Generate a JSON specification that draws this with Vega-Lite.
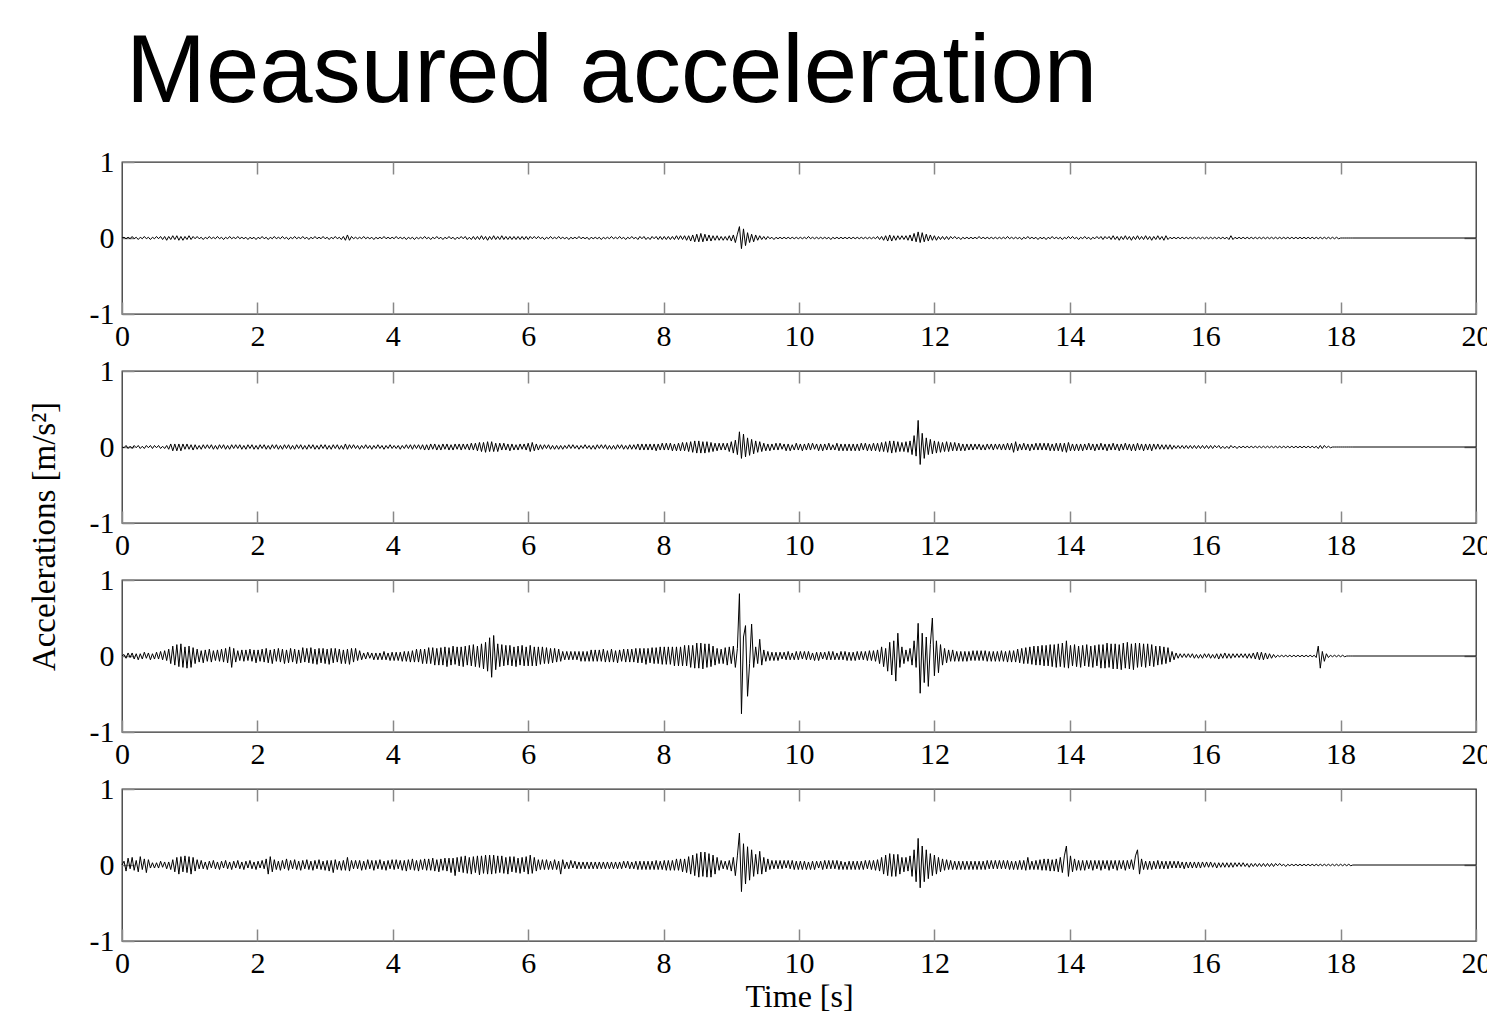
{
"$schema": "https://vega.github.io/schema/vega-lite/v6.json",
"background": "white",
"padding": {"left": 27, "top": 25, "right": 0, "bottom": 0},
"title": {"text": "Measured acceleration", "anchor": "start", "frame": "group", "font": "Liberation Sans", "fontSize": 96, "fontWeight": "normal", "color": "#000", "offset": 24, "dx": 4},
"data": {"values": [
{"t":0,"a":0,"b":0,"c":0,"d":0},
{"t":0.03,"a":0.01,"b":-0.01,"c":0.02,"d":0.05},
{"t":0.06,"a":-0.01,"b":0.02,"c":-0.03,"d":-0.08},
{"t":0.09,"a":0.01,"b":-0.02,"c":0.04,"d":0.09},
{"t":0.12,"a":-0.01,"b":0.01,"c":-0.02,"d":-0.05},
{"t":0.15,"a":0.02,"b":-0.02,"c":0.04,"d":0.1},
{"t":0.18,"a":-0.01,"b":0.02,"c":-0.04,"d":-0.07},
{"t":0.21,"a":0.01,"b":-0.01,"c":0.03,"d":0.06},
{"t":0.24,"a":-0.02,"b":0.02,"c":-0.05,"d":-0.09},
{"t":0.27,"a":0.01,"b":-0.02,"c":0.03,"d":0.11},
{"t":0.3,"a":-0.01,"b":0.01,"c":-0.04,"d":-0.06},
{"t":0.33,"a":0.02,"b":-0.02,"c":0.05,"d":0.08},
{"t":0.36,"a":-0.01,"b":0.02,"c":-0.03,"d":-0.1},
{"t":0.39,"a":0.01,"b":-0.01,"c":0.04,"d":0.07},
{"t":0.42,"a":-0.02,"b":0.02,"c":-0.05,"d":-0.04},
{"t":0.45,"a":0.01,"b":-0.02,"c":0.03,"d":0.03},
{"t":0.48,"a":-0.01,"b":0.02,"c":-0.04,"d":-0.04},
{"t":0.51,"a":0.02,"b":-0.01,"c":0.05,"d":0.03},
{"t":0.54,"a":-0.01,"b":0.02,"c":-0.04,"d":-0.04},
{"t":0.57,"a":0.02,"b":-0.02,"c":0.06,"d":0.05},
{"t":0.6,"a":-0.02,"b":0.01,"c":-0.05,"d":-0.03},
{"t":0.63,"a":0.02,"b":-0.02,"c":0.07,"d":0.04},
{"t":0.66,"a":-0.03,"b":0.02,"c":-0.06,"d":-0.05},
{"t":0.69,"a":0.02,"b":-0.03,"c":0.09,"d":0.04},
{"t":0.72,"a":-0.02,"b":0.04,"c":-0.1,"d":-0.06},
{"t":0.75,"a":0.03,"b":-0.05,"c":0.13,"d":0.07},
{"t":0.78,"a":-0.02,"b":0.04,"c":-0.12,"d":-0.09},
{"t":0.81,"a":0.03,"b":-0.05,"c":0.15,"d":0.1},
{"t":0.84,"a":-0.03,"b":0.04,"c":-0.14,"d":-0.12},
{"t":0.87,"a":0.02,"b":-0.05,"c":0.16,"d":0.11},
{"t":0.9,"a":-0.03,"b":0.04,"c":-0.15,"d":-0.09},
{"t":0.93,"a":0.02,"b":-0.03,"c":0.12,"d":0.12},
{"t":0.96,"a":-0.02,"b":0.04,"c":-0.16,"d":-0.1},
{"t":0.99,"a":0.03,"b":-0.03,"c":0.13,"d":0.11},
{"t":1.02,"a":-0.02,"b":0.03,"c":-0.15,"d":-0.12},
{"t":1.05,"a":0.02,"b":-0.04,"c":0.11,"d":0.1},
{"t":1.08,"a":-0.01,"b":0.03,"c":-0.1,"d":-0.08},
{"t":1.11,"a":0.02,"b":-0.03,"c":0.09,"d":0.07},
{"t":1.14,"a":-0.01,"b":0.02,"c":-0.08,"d":-0.05},
{"t":1.17,"a":0.01,"b":-0.03,"c":0.07,"d":0.06},
{"t":1.2,"a":-0.02,"b":0.03,"c":-0.09,"d":-0.05},
{"t":1.23,"a":0.01,"b":-0.02,"c":0.08,"d":0.04},
{"t":1.26,"a":-0.01,"b":0.03,"c":-0.07,"d":-0.06},
{"t":1.29,"a":0.02,"b":-0.02,"c":0.09,"d":0.05},
{"t":1.32,"a":-0.01,"b":0.03,"c":-0.08,"d":-0.04},
{"t":1.35,"a":0.01,"b":-0.03,"c":0.07,"d":0.06},
{"t":1.38,"a":-0.01,"b":0.02,"c":-0.06,"d":-0.05},
{"t":1.41,"a":0.02,"b":-0.03,"c":0.08,"d":0.04},
{"t":1.44,"a":-0.01,"b":0.03,"c":-0.07,"d":-0.06},
{"t":1.47,"a":0.01,"b":-0.02,"c":0.09,"d":0.05},
{"t":1.5,"a":-0.02,"b":0.03,"c":-0.08,"d":-0.04},
{"t":1.53,"a":0.01,"b":-0.03,"c":0.1,"d":0.06},
{"t":1.56,"a":-0.01,"b":0.02,"c":-0.09,"d":-0.05},
{"t":1.59,"a":0.02,"b":-0.03,"c":0.12,"d":0.04},
{"t":1.62,"a":-0.01,"b":0.03,"c":-0.15,"d":-0.06},
{"t":1.65,"a":0.01,"b":-0.02,"c":0.1,"d":0.05},
{"t":1.68,"a":-0.01,"b":0.03,"c":-0.08,"d":-0.04},
{"t":1.71,"a":0.02,"b":-0.02,"c":0.07,"d":0.06},
{"t":1.74,"a":-0.01,"b":0.03,"c":-0.06,"d":-0.05},
{"t":1.77,"a":0.01,"b":-0.03,"c":0.08,"d":0.04},
{"t":1.8,"a":-0.01,"b":0.02,"c":-0.07,"d":-0.06},
{"t":1.83,"a":0.01,"b":-0.03,"c":0.08,"d":0.05},
{"t":1.86,"a":-0.02,"b":0.03,"c":-0.06,"d":-0.04},
{"t":1.89,"a":0.01,"b":-0.02,"c":0.09,"d":0.06},
{"t":1.92,"a":-0.01,"b":0.03,"c":-0.07,"d":-0.05},
{"t":1.95,"a":0.01,"b":-0.03,"c":0.08,"d":0.04},
{"t":1.98,"a":-0.02,"b":0.02,"c":-0.09,"d":-0.06},
{"t":2.01,"a":0.01,"b":-0.03,"c":0.08,"d":0.05},
{"t":2.04,"a":-0.01,"b":0.03,"c":-0.07,"d":-0.04},
{"t":2.07,"a":0.02,"b":-0.02,"c":0.09,"d":0.06},
{"t":2.1,"a":-0.01,"b":0.03,"c":-0.08,"d":-0.05},
{"t":2.13,"a":0.01,"b":-0.03,"c":0.1,"d":0.08},
{"t":2.16,"a":-0.02,"b":0.02,"c":-0.09,"d":-0.12},
{"t":2.19,"a":0.01,"b":-0.03,"c":0.08,"d":0.11},
{"t":2.22,"a":-0.01,"b":0.03,"c":-0.1,"d":-0.09},
{"t":2.25,"a":0.02,"b":-0.02,"c":0.09,"d":0.07},
{"t":2.28,"a":-0.01,"b":0.03,"c":-0.07,"d":-0.06},
{"t":2.31,"a":0.01,"b":-0.03,"c":0.1,"d":0.05},
{"t":2.34,"a":-0.01,"b":0.02,"c":-0.08,"d":-0.07},
{"t":2.37,"a":0.02,"b":-0.03,"c":0.09,"d":0.06},
{"t":2.4,"a":-0.01,"b":0.03,"c":-0.1,"d":-0.05},
{"t":2.43,"a":0.01,"b":-0.02,"c":0.08,"d":0.08},
{"t":2.46,"a":-0.02,"b":0.03,"c":-0.09,"d":-0.07},
{"t":2.49,"a":0.01,"b":-0.03,"c":0.1,"d":0.06},
{"t":2.52,"a":-0.01,"b":0.02,"c":-0.08,"d":-0.05},
{"t":2.55,"a":0.02,"b":-0.03,"c":0.09,"d":0.07},
{"t":2.58,"a":-0.01,"b":0.03,"c":-0.1,"d":-0.06},
{"t":2.61,"a":0.01,"b":-0.02,"c":0.08,"d":0.05},
{"t":2.64,"a":-0.01,"b":0.03,"c":-0.09,"d":-0.07},
{"t":2.67,"a":0.02,"b":-0.03,"c":0.11,"d":0.06},
{"t":2.7,"a":-0.01,"b":0.02,"c":-0.08,"d":-0.05},
{"t":2.73,"a":0.01,"b":-0.03,"c":0.1,"d":0.07},
{"t":2.76,"a":-0.02,"b":0.03,"c":-0.09,"d":-0.06},
{"t":2.79,"a":0.01,"b":-0.02,"c":0.11,"d":0.05},
{"t":2.82,"a":-0.01,"b":0.03,"c":-0.1,"d":-0.07},
{"t":2.85,"a":0.02,"b":-0.03,"c":0.09,"d":0.06},
{"t":2.88,"a":-0.01,"b":0.02,"c":-0.11,"d":-0.05},
{"t":2.91,"a":0.01,"b":-0.03,"c":0.1,"d":0.07},
{"t":2.94,"a":-0.01,"b":0.03,"c":-0.09,"d":-0.06},
{"t":2.97,"a":0.02,"b":-0.02,"c":0.1,"d":0.05},
{"t":3,"a":-0.01,"b":0.03,"c":-0.1,"d":-0.07},
{"t":3.03,"a":0.01,"b":-0.03,"c":0.09,"d":0.06},
{"t":3.06,"a":-0.02,"b":0.02,"c":-0.11,"d":-0.08},
{"t":3.09,"a":0.01,"b":-0.03,"c":0.1,"d":0.06},
{"t":3.12,"a":-0.01,"b":0.03,"c":-0.09,"d":-0.1},
{"t":3.15,"a":0.02,"b":-0.02,"c":0.1,"d":0.07},
{"t":3.18,"a":-0.01,"b":0.03,"c":-0.08,"d":-0.06},
{"t":3.21,"a":0.01,"b":-0.03,"c":0.09,"d":0.05},
{"t":3.24,"a":-0.02,"b":0.02,"c":-0.1,"d":-0.07},
{"t":3.27,"a":0.02,"b":-0.03,"c":0.08,"d":0.06},
{"t":3.3,"a":-0.03,"b":0.04,"c":-0.1,"d":-0.07},
{"t":3.33,"a":0.04,"b":-0.03,"c":0.09,"d":0.1},
{"t":3.36,"a":-0.03,"b":0.03,"c":-0.11,"d":-0.08},
{"t":3.39,"a":0.02,"b":-0.02,"c":0.1,"d":0.06},
{"t":3.42,"a":-0.01,"b":0.03,"c":-0.08,"d":-0.05},
{"t":3.45,"a":0.01,"b":-0.02,"c":0.1,"d":0.06},
{"t":3.48,"a":-0.01,"b":0.02,"c":-0.06,"d":-0.05},
{"t":3.51,"a":0.01,"b":-0.03,"c":0.07,"d":0.06},
{"t":3.54,"a":-0.01,"b":0.02,"c":-0.05,"d":-0.07},
{"t":3.57,"a":0.02,"b":-0.02,"c":0.04,"d":0.05},
{"t":3.6,"a":-0.01,"b":0.03,"c":-0.04,"d":-0.06},
{"t":3.63,"a":0.01,"b":-0.02,"c":0.05,"d":0.07},
{"t":3.66,"a":-0.01,"b":0.02,"c":-0.03,"d":-0.05},
{"t":3.69,"a":0.01,"b":-0.03,"c":0.04,"d":0.06},
{"t":3.72,"a":-0.02,"b":0.02,"c":-0.05,"d":-0.07},
{"t":3.75,"a":0.01,"b":-0.02,"c":0.04,"d":0.06},
{"t":3.78,"a":-0.01,"b":0.03,"c":-0.05,"d":-0.05},
{"t":3.81,"a":0.01,"b":-0.02,"c":0.04,"d":0.07},
{"t":3.84,"a":-0.01,"b":0.02,"c":-0.05,"d":-0.06},
{"t":3.87,"a":0.02,"b":-0.03,"c":0.06,"d":0.05},
{"t":3.9,"a":-0.01,"b":0.02,"c":-0.05,"d":-0.07},
{"t":3.93,"a":0.01,"b":-0.02,"c":0.04,"d":0.06},
{"t":3.96,"a":-0.01,"b":0.03,"c":-0.06,"d":-0.05},
{"t":3.99,"a":0.01,"b":-0.02,"c":0.05,"d":0.07},
{"t":4.02,"a":-0.01,"b":0.02,"c":-0.06,"d":-0.06},
{"t":4.05,"a":0.02,"b":-0.02,"c":0.05,"d":0.07},
{"t":4.08,"a":-0.01,"b":0.02,"c":-0.06,"d":-0.05},
{"t":4.11,"a":0.01,"b":-0.03,"c":0.05,"d":0.06},
{"t":4.14,"a":-0.01,"b":0.02,"c":-0.07,"d":-0.07},
{"t":4.17,"a":0.01,"b":-0.02,"c":0.06,"d":0.06},
{"t":4.2,"a":-0.02,"b":0.03,"c":-0.07,"d":-0.08},
{"t":4.23,"a":0.01,"b":-0.02,"c":0.06,"d":0.07},
{"t":4.26,"a":-0.01,"b":0.03,"c":-0.08,"d":-0.06},
{"t":4.29,"a":0.01,"b":-0.03,"c":0.07,"d":0.08},
{"t":4.32,"a":-0.02,"b":0.03,"c":-0.08,"d":-0.07},
{"t":4.35,"a":0.01,"b":-0.02,"c":0.09,"d":0.06},
{"t":4.38,"a":-0.01,"b":0.03,"c":-0.08,"d":-0.08},
{"t":4.41,"a":0.01,"b":-0.03,"c":0.09,"d":0.07},
{"t":4.44,"a":-0.01,"b":0.03,"c":-0.1,"d":-0.06},
{"t":4.47,"a":0.02,"b":-0.04,"c":0.09,"d":0.08},
{"t":4.5,"a":-0.01,"b":0.03,"c":-0.1,"d":-0.07},
{"t":4.53,"a":0.01,"b":-0.04,"c":0.11,"d":0.08},
{"t":4.56,"a":-0.02,"b":0.04,"c":-0.1,"d":-0.07},
{"t":4.59,"a":0.01,"b":-0.03,"c":0.11,"d":0.09},
{"t":4.62,"a":-0.01,"b":0.04,"c":-0.12,"d":-0.08},
{"t":4.65,"a":0.02,"b":-0.04,"c":0.1,"d":0.07},
{"t":4.68,"a":-0.01,"b":0.03,"c":-0.12,"d":-0.09},
{"t":4.71,"a":0.01,"b":-0.04,"c":0.11,"d":0.08},
{"t":4.74,"a":-0.02,"b":0.04,"c":-0.12,"d":-0.07},
{"t":4.77,"a":0.01,"b":-0.03,"c":0.12,"d":0.09},
{"t":4.8,"a":-0.01,"b":0.04,"c":-0.14,"d":-0.08},
{"t":4.83,"a":0.02,"b":-0.04,"c":0.11,"d":0.09},
{"t":4.86,"a":-0.01,"b":0.03,"c":-0.12,"d":-0.1},
{"t":4.89,"a":0.01,"b":-0.04,"c":0.13,"d":0.09},
{"t":4.92,"a":-0.02,"b":0.04,"c":-0.11,"d":-0.14},
{"t":4.95,"a":0.01,"b":-0.03,"c":0.12,"d":0.1},
{"t":4.98,"a":-0.01,"b":0.04,"c":-0.13,"d":-0.09},
{"t":5.01,"a":0.02,"b":-0.04,"c":0.12,"d":0.11},
{"t":5.04,"a":-0.01,"b":0.04,"c":-0.14,"d":-0.1},
{"t":5.07,"a":0.02,"b":-0.03,"c":0.13,"d":0.12},
{"t":5.1,"a":-0.02,"b":0.04,"c":-0.12,"d":-0.11},
{"t":5.13,"a":0.01,"b":-0.04,"c":0.14,"d":0.1},
{"t":5.16,"a":-0.02,"b":0.05,"c":-0.13,"d":-0.12},
{"t":5.19,"a":0.02,"b":-0.04,"c":0.15,"d":0.11},
{"t":5.22,"a":-0.02,"b":0.05,"c":-0.14,"d":-0.1},
{"t":5.25,"a":0.02,"b":-0.05,"c":0.13,"d":0.12},
{"t":5.28,"a":-0.02,"b":0.06,"c":-0.15,"d":-0.13},
{"t":5.31,"a":0.03,"b":-0.06,"c":0.16,"d":0.12},
{"t":5.34,"a":-0.02,"b":0.06,"c":-0.17,"d":-0.11},
{"t":5.37,"a":0.02,"b":-0.07,"c":0.18,"d":0.13},
{"t":5.4,"a":-0.03,"b":0.07,"c":-0.2,"d":-0.12},
{"t":5.43,"a":0.02,"b":-0.06,"c":0.24,"d":0.13},
{"t":5.46,"a":-0.02,"b":0.07,"c":-0.28,"d":-0.12},
{"t":5.49,"a":0.03,"b":-0.06,"c":0.27,"d":0.13},
{"t":5.52,"a":-0.02,"b":0.05,"c":-0.18,"d":-0.11},
{"t":5.55,"a":0.02,"b":-0.06,"c":0.16,"d":0.12},
{"t":5.58,"a":-0.02,"b":0.05,"c":-0.14,"d":-0.1},
{"t":5.61,"a":0.03,"b":-0.04,"c":0.15,"d":0.12},
{"t":5.64,"a":-0.02,"b":0.05,"c":-0.13,"d":-0.11},
{"t":5.67,"a":0.02,"b":-0.04,"c":0.14,"d":0.1},
{"t":5.7,"a":-0.02,"b":0.04,"c":-0.12,"d":-0.12},
{"t":5.73,"a":0.02,"b":-0.05,"c":0.14,"d":0.11},
{"t":5.76,"a":-0.02,"b":0.04,"c":-0.13,"d":-0.09},
{"t":5.79,"a":0.02,"b":-0.04,"c":0.12,"d":0.11},
{"t":5.82,"a":-0.02,"b":0.03,"c":-0.14,"d":-0.1},
{"t":5.85,"a":0.02,"b":-0.04,"c":0.13,"d":0.09},
{"t":5.88,"a":-0.02,"b":0.04,"c":-0.12,"d":-0.11},
{"t":5.91,"a":0.02,"b":-0.03,"c":0.14,"d":0.1},
{"t":5.94,"a":-0.02,"b":0.04,"c":-0.13,"d":-0.09},
{"t":5.97,"a":0.02,"b":-0.04,"c":0.12,"d":0.11},
{"t":6,"a":-0.02,"b":0.05,"c":-0.13,"d":-0.12},
{"t":6.03,"a":0.02,"b":-0.06,"c":0.14,"d":0.13},
{"t":6.06,"a":-0.01,"b":0.06,"c":-0.13,"d":-0.11},
{"t":6.09,"a":0.02,"b":-0.05,"c":0.12,"d":0.1},
{"t":6.12,"a":-0.01,"b":0.04,"c":-0.13,"d":-0.08},
{"t":6.15,"a":0.02,"b":-0.04,"c":0.12,"d":0.07},
{"t":6.18,"a":-0.01,"b":0.03,"c":-0.11,"d":-0.06},
{"t":6.21,"a":0.01,"b":-0.03,"c":0.12,"d":0.07},
{"t":6.24,"a":-0.02,"b":0.03,"c":-0.1,"d":-0.06},
{"t":6.27,"a":0.01,"b":-0.02,"c":0.11,"d":0.07},
{"t":6.3,"a":-0.01,"b":0.03,"c":-0.1,"d":-0.06},
{"t":6.33,"a":0.02,"b":-0.03,"c":0.1,"d":0.05},
{"t":6.36,"a":-0.01,"b":0.02,"c":-0.09,"d":-0.06},
{"t":6.39,"a":0.01,"b":-0.03,"c":0.1,"d":0.07},
{"t":6.42,"a":-0.01,"b":0.02,"c":-0.08,"d":-0.06},
{"t":6.45,"a":0.02,"b":-0.03,"c":0.09,"d":0.05},
{"t":6.48,"a":-0.01,"b":0.02,"c":-0.07,"d":-0.12},
{"t":6.51,"a":0.01,"b":-0.03,"c":0.06,"d":0.07},
{"t":6.54,"a":-0.01,"b":0.02,"c":-0.05,"d":-0.05},
{"t":6.57,"a":0.01,"b":-0.02,"c":0.06,"d":0.04},
{"t":6.6,"a":-0.02,"b":0.03,"c":-0.05,"d":-0.05},
{"t":6.63,"a":0.01,"b":-0.02,"c":0.06,"d":0.06},
{"t":6.66,"a":-0.01,"b":0.03,"c":-0.05,"d":-0.04},
{"t":6.69,"a":0.01,"b":-0.02,"c":0.06,"d":0.05},
{"t":6.72,"a":-0.01,"b":0.02,"c":-0.05,"d":-0.05},
{"t":6.75,"a":0.02,"b":-0.03,"c":0.06,"d":0.04},
{"t":6.78,"a":-0.01,"b":0.02,"c":-0.07,"d":-0.05},
{"t":6.81,"a":0.01,"b":-0.02,"c":0.06,"d":0.04},
{"t":6.84,"a":-0.01,"b":0.03,"c":-0.07,"d":-0.05},
{"t":6.87,"a":0.01,"b":-0.02,"c":0.06,"d":0.04},
{"t":6.9,"a":-0.02,"b":0.02,"c":-0.07,"d":-0.05},
{"t":6.93,"a":0.01,"b":-0.03,"c":0.08,"d":0.04},
{"t":6.96,"a":-0.01,"b":0.02,"c":-0.07,"d":-0.05},
{"t":6.99,"a":0.01,"b":-0.03,"c":0.08,"d":0.04},
{"t":7.02,"a":-0.01,"b":0.03,"c":-0.07,"d":-0.05},
{"t":7.05,"a":0.01,"b":-0.02,"c":0.08,"d":0.04},
{"t":7.08,"a":-0.02,"b":0.03,"c":-0.07,"d":-0.05},
{"t":7.11,"a":0.01,"b":-0.02,"c":0.09,"d":0.04},
{"t":7.14,"a":-0.01,"b":0.03,"c":-0.08,"d":-0.05},
{"t":7.17,"a":0.01,"b":-0.03,"c":0.07,"d":0.04},
{"t":7.2,"a":-0.01,"b":0.02,"c":-0.08,"d":-0.05},
{"t":7.23,"a":0.02,"b":-0.03,"c":0.09,"d":0.04},
{"t":7.26,"a":-0.01,"b":0.02,"c":-0.08,"d":-0.05},
{"t":7.29,"a":0.01,"b":-0.03,"c":0.07,"d":0.04},
{"t":7.32,"a":-0.01,"b":0.03,"c":-0.09,"d":-0.05},
{"t":7.35,"a":0.02,"b":-0.02,"c":0.08,"d":0.04},
{"t":7.38,"a":-0.01,"b":0.03,"c":-0.07,"d":-0.05},
{"t":7.41,"a":0.01,"b":-0.03,"c":0.09,"d":0.05},
{"t":7.44,"a":-0.02,"b":0.02,"c":-0.08,"d":-0.04},
{"t":7.47,"a":0.01,"b":-0.03,"c":0.09,"d":0.05},
{"t":7.5,"a":-0.01,"b":0.03,"c":-0.08,"d":-0.05},
{"t":7.53,"a":0.02,"b":-0.03,"c":0.09,"d":0.04},
{"t":7.56,"a":-0.01,"b":0.03,"c":-0.08,"d":-0.05},
{"t":7.59,"a":0.01,"b":-0.03,"c":0.1,"d":0.05},
{"t":7.62,"a":-0.02,"b":0.04,"c":-0.09,"d":-0.06},
{"t":7.65,"a":0.02,"b":-0.04,"c":0.1,"d":0.05},
{"t":7.68,"a":-0.01,"b":0.04,"c":-0.09,"d":-0.06},
{"t":7.71,"a":0.02,"b":-0.04,"c":0.1,"d":0.05},
{"t":7.74,"a":-0.02,"b":0.04,"c":-0.11,"d":-0.06},
{"t":7.77,"a":0.01,"b":-0.04,"c":0.1,"d":0.05},
{"t":7.8,"a":-0.02,"b":0.04,"c":-0.09,"d":-0.06},
{"t":7.83,"a":0.02,"b":-0.04,"c":0.11,"d":0.05},
{"t":7.86,"a":-0.01,"b":0.04,"c":-0.1,"d":-0.06},
{"t":7.89,"a":0.02,"b":-0.05,"c":0.11,"d":0.06},
{"t":7.92,"a":-0.02,"b":0.04,"c":-0.1,"d":-0.06},
{"t":7.95,"a":0.02,"b":-0.04,"c":0.12,"d":0.05},
{"t":7.98,"a":-0.02,"b":0.05,"c":-0.11,"d":-0.06},
{"t":8.01,"a":0.02,"b":-0.04,"c":0.12,"d":0.06},
{"t":8.04,"a":-0.02,"b":0.05,"c":-0.11,"d":-0.07},
{"t":8.07,"a":0.02,"b":-0.04,"c":0.12,"d":0.06},
{"t":8.1,"a":-0.02,"b":0.05,"c":-0.11,"d":-0.07},
{"t":8.13,"a":0.02,"b":-0.05,"c":0.12,"d":0.06},
{"t":8.16,"a":-0.02,"b":0.04,"c":-0.13,"d":-0.07},
{"t":8.19,"a":0.03,"b":-0.05,"c":0.12,"d":0.08},
{"t":8.22,"a":-0.02,"b":0.05,"c":-0.13,"d":-0.07},
{"t":8.25,"a":0.03,"b":-0.05,"c":0.12,"d":0.08},
{"t":8.28,"a":-0.02,"b":0.06,"c":-0.13,"d":-0.09},
{"t":8.31,"a":0.03,"b":-0.05,"c":0.14,"d":0.08},
{"t":8.34,"a":-0.03,"b":0.06,"c":-0.13,"d":-0.1},
{"t":8.37,"a":0.03,"b":-0.06,"c":0.14,"d":0.11},
{"t":8.4,"a":-0.04,"b":0.07,"c":-0.15,"d":-0.12},
{"t":8.43,"a":0.04,"b":-0.07,"c":0.14,"d":0.13},
{"t":8.46,"a":-0.05,"b":0.08,"c":-0.16,"d":-0.14},
{"t":8.49,"a":0.05,"b":-0.08,"c":0.17,"d":0.15},
{"t":8.52,"a":-0.05,"b":0.08,"c":-0.16,"d":-0.16},
{"t":8.55,"a":0.06,"b":-0.08,"c":0.17,"d":0.17},
{"t":8.58,"a":-0.05,"b":0.07,"c":-0.17,"d":-0.15},
{"t":8.61,"a":0.05,"b":-0.08,"c":0.16,"d":0.17},
{"t":8.64,"a":-0.04,"b":0.07,"c":-0.15,"d":-0.16},
{"t":8.67,"a":0.04,"b":-0.07,"c":0.16,"d":0.15},
{"t":8.7,"a":-0.04,"b":0.06,"c":-0.14,"d":-0.16},
{"t":8.73,"a":0.03,"b":-0.06,"c":0.13,"d":0.13},
{"t":8.76,"a":-0.03,"b":0.05,"c":-0.12,"d":-0.12},
{"t":8.79,"a":0.03,"b":-0.05,"c":0.1,"d":0.1},
{"t":8.82,"a":-0.03,"b":0.05,"c":-0.1,"d":-0.07},
{"t":8.85,"a":0.02,"b":-0.04,"c":0.09,"d":0.06},
{"t":8.88,"a":-0.03,"b":0.05,"c":-0.1,"d":-0.05},
{"t":8.91,"a":0.02,"b":-0.04,"c":0.11,"d":0.05},
{"t":8.94,"a":-0.03,"b":0.05,"c":-0.12,"d":-0.06},
{"t":8.97,"a":0.03,"b":-0.06,"c":0.12,"d":0.06},
{"t":9,"a":-0.04,"b":0.07,"c":-0.1,"d":-0.08},
{"t":9.03,"a":0.04,"b":-0.08,"c":0.13,"d":0.1},
{"t":9.06,"a":-0.06,"b":0.09,"c":-0.15,"d":-0.14},
{"t":9.09,"a":0.05,"b":-0.1,"c":0.1,"d":0.12},
{"t":9.12,"a":0.15,"b":0.2,"c":0.82,"d":0.42},
{"t":9.15,"a":-0.14,"b":-0.15,"c":-0.76,"d":-0.35},
{"t":9.18,"a":0.12,"b":0.17,"c":0.25,"d":0.28},
{"t":9.21,"a":-0.1,"b":-0.13,"c":0.4,"d":-0.25},
{"t":9.24,"a":0.07,"b":0.12,"c":-0.53,"d":0.24},
{"t":9.27,"a":-0.06,"b":-0.11,"c":-0.1,"d":-0.2},
{"t":9.3,"a":0.05,"b":0.1,"c":0.42,"d":0.2},
{"t":9.33,"a":-0.05,"b":-0.09,"c":-0.15,"d":-0.15},
{"t":9.36,"a":0.04,"b":0.08,"c":0.12,"d":0.14},
{"t":9.39,"a":-0.03,"b":-0.07,"c":-0.1,"d":-0.12},
{"t":9.42,"a":0.03,"b":0.07,"c":0.22,"d":0.18},
{"t":9.45,"a":-0.02,"b":-0.06,"c":-0.12,"d":-0.12},
{"t":9.48,"a":0.02,"b":0.05,"c":0.08,"d":0.1},
{"t":9.51,"a":-0.02,"b":-0.05,"c":-0.07,"d":-0.09},
{"t":9.54,"a":0.02,"b":0.04,"c":0.06,"d":0.08},
{"t":9.57,"a":-0.01,"b":-0.05,"c":-0.06,"d":-0.06},
{"t":9.6,"a":0.01,"b":0.04,"c":0.05,"d":0.06},
{"t":9.63,"a":-0.02,"b":-0.04,"c":-0.06,"d":-0.05},
{"t":9.66,"a":0.01,"b":0.05,"c":0.05,"d":0.06},
{"t":9.69,"a":-0.01,"b":-0.04,"c":-0.06,"d":-0.05},
{"t":9.72,"a":0.01,"b":0.05,"c":0.05,"d":0.06},
{"t":9.75,"a":-0.01,"b":-0.03,"c":-0.04,"d":-0.05},
{"t":9.78,"a":0.01,"b":0.04,"c":0.05,"d":0.06},
{"t":9.81,"a":-0.01,"b":-0.05,"c":-0.05,"d":-0.04},
{"t":9.84,"a":0.01,"b":0.04,"c":0.06,"d":0.06},
{"t":9.87,"a":-0.01,"b":-0.05,"c":-0.05,"d":-0.05},
{"t":9.9,"a":0.01,"b":0.03,"c":0.04,"d":0.06},
{"t":9.93,"a":-0.01,"b":-0.04,"c":-0.05,"d":-0.06},
{"t":9.96,"a":0.01,"b":0.05,"c":0.06,"d":0.05},
{"t":9.99,"a":-0.01,"b":-0.04,"c":-0.05,"d":-0.06},
{"t":10.02,"a":0.01,"b":0.04,"c":0.06,"d":0.05},
{"t":10.05,"a":-0.01,"b":-0.05,"c":-0.04,"d":-0.06},
{"t":10.08,"a":0.01,"b":0.04,"c":0.06,"d":0.05},
{"t":10.11,"a":-0.01,"b":-0.04,"c":-0.05,"d":-0.06},
{"t":10.14,"a":0.02,"b":0.05,"c":0.06,"d":0.04},
{"t":10.17,"a":-0.01,"b":-0.04,"c":-0.05,"d":-0.06},
{"t":10.2,"a":0.01,"b":0.05,"c":0.04,"d":0.05},
{"t":10.23,"a":-0.01,"b":-0.03,"c":-0.06,"d":-0.06},
{"t":10.26,"a":0.01,"b":0.04,"c":0.05,"d":0.05},
{"t":10.29,"a":-0.01,"b":-0.05,"c":-0.06,"d":-0.04},
{"t":10.32,"a":0.01,"b":0.04,"c":0.05,"d":0.05},
{"t":10.35,"a":-0.01,"b":-0.05,"c":-0.04,"d":-0.06},
{"t":10.38,"a":0.01,"b":0.04,"c":0.05,"d":0.06},
{"t":10.41,"a":-0.01,"b":-0.04,"c":-0.05,"d":-0.05},
{"t":10.44,"a":0.01,"b":0.05,"c":0.06,"d":0.06},
{"t":10.47,"a":-0.02,"b":-0.04,"c":-0.05,"d":-0.05},
{"t":10.5,"a":0.01,"b":0.03,"c":0.06,"d":0.06},
{"t":10.53,"a":-0.01,"b":-0.04,"c":-0.05,"d":-0.05},
{"t":10.56,"a":0.01,"b":0.05,"c":0.04,"d":0.06},
{"t":10.59,"a":-0.01,"b":-0.05,"c":-0.05,"d":-0.06},
{"t":10.62,"a":0.01,"b":0.04,"c":0.06,"d":0.05},
{"t":10.65,"a":-0.01,"b":-0.05,"c":-0.05,"d":-0.06},
{"t":10.68,"a":0.01,"b":0.04,"c":0.06,"d":0.04},
{"t":10.71,"a":-0.01,"b":-0.05,"c":-0.06,"d":-0.06},
{"t":10.74,"a":0.01,"b":0.04,"c":0.05,"d":0.05},
{"t":10.77,"a":-0.01,"b":-0.05,"c":-0.06,"d":-0.06},
{"t":10.8,"a":0.01,"b":0.04,"c":0.05,"d":0.05},
{"t":10.83,"a":-0.01,"b":-0.05,"c":-0.06,"d":-0.06},
{"t":10.86,"a":0.01,"b":0.04,"c":0.06,"d":0.05},
{"t":10.89,"a":-0.01,"b":-0.05,"c":-0.05,"d":-0.06},
{"t":10.92,"a":0.01,"b":0.05,"c":0.06,"d":0.05},
{"t":10.95,"a":-0.01,"b":-0.04,"c":-0.05,"d":-0.06},
{"t":10.98,"a":0.01,"b":0.05,"c":0.06,"d":0.06},
{"t":11.01,"a":-0.01,"b":-0.05,"c":-0.06,"d":-0.05},
{"t":11.04,"a":0.01,"b":0.04,"c":0.07,"d":0.06},
{"t":11.07,"a":-0.01,"b":-0.05,"c":-0.06,"d":-0.06},
{"t":11.1,"a":0.01,"b":0.05,"c":0.07,"d":0.06},
{"t":11.13,"a":-0.01,"b":-0.05,"c":-0.07,"d":-0.07},
{"t":11.16,"a":0.02,"b":0.05,"c":0.08,"d":0.07},
{"t":11.19,"a":-0.02,"b":-0.06,"c":-0.1,"d":-0.08},
{"t":11.22,"a":0.02,"b":0.06,"c":0.12,"d":0.1},
{"t":11.25,"a":-0.03,"b":-0.06,"c":-0.14,"d":-0.12},
{"t":11.28,"a":0.03,"b":0.07,"c":0.1,"d":0.13},
{"t":11.31,"a":-0.04,"b":-0.07,"c":-0.2,"d":-0.14},
{"t":11.34,"a":0.04,"b":0.08,"c":0.18,"d":0.15},
{"t":11.37,"a":-0.04,"b":-0.08,"c":-0.25,"d":-0.15},
{"t":11.4,"a":0.03,"b":0.08,"c":0.2,"d":0.14},
{"t":11.43,"a":-0.03,"b":-0.07,"c":-0.33,"d":-0.15},
{"t":11.46,"a":0.03,"b":0.07,"c":0.3,"d":0.14},
{"t":11.49,"a":-0.02,"b":-0.06,"c":-0.15,"d":-0.12},
{"t":11.52,"a":0.03,"b":0.06,"c":0.12,"d":0.1},
{"t":11.55,"a":-0.02,"b":-0.06,"c":-0.1,"d":-0.09},
{"t":11.58,"a":0.03,"b":0.07,"c":0.08,"d":0.1},
{"t":11.61,"a":-0.03,"b":-0.07,"c":-0.07,"d":-0.08},
{"t":11.64,"a":0.04,"b":0.08,"c":0.1,"d":0.12},
{"t":11.67,"a":-0.04,"b":-0.1,"c":-0.12,"d":-0.15},
{"t":11.7,"a":0.06,"b":0.15,"c":0.2,"d":0.2},
{"t":11.73,"a":-0.05,"b":-0.12,"c":-0.15,"d":-0.22},
{"t":11.76,"a":0.08,"b":0.35,"c":0.43,"d":0.35},
{"t":11.79,"a":-0.06,"b":-0.23,"c":-0.49,"d":-0.3},
{"t":11.82,"a":0.07,"b":0.18,"c":0.3,"d":0.25},
{"t":11.85,"a":-0.05,"b":-0.15,"c":-0.35,"d":-0.22},
{"t":11.88,"a":0.05,"b":0.12,"c":0.25,"d":0.2},
{"t":11.91,"a":-0.04,"b":-0.1,"c":-0.4,"d":-0.18},
{"t":11.94,"a":0.04,"b":0.1,"c":0.15,"d":0.15},
{"t":11.97,"a":-0.03,"b":-0.09,"c":0.5,"d":-0.14},
{"t":12,"a":0.03,"b":0.08,"c":-0.26,"d":0.13},
{"t":12.03,"a":-0.03,"b":-0.08,"c":0.2,"d":-0.12},
{"t":12.06,"a":0.02,"b":0.07,"c":-0.22,"d":0.1},
{"t":12.09,"a":-0.02,"b":-0.07,"c":0.15,"d":-0.09},
{"t":12.12,"a":0.02,"b":0.06,"c":-0.12,"d":0.08},
{"t":12.15,"a":-0.02,"b":-0.06,"c":0.1,"d":-0.07},
{"t":12.18,"a":0.02,"b":0.07,"c":-0.09,"d":0.07},
{"t":12.21,"a":-0.02,"b":-0.06,"c":0.08,"d":-0.06},
{"t":12.24,"a":0.02,"b":0.06,"c":-0.07,"d":0.06},
{"t":12.27,"a":-0.01,"b":-0.05,"c":0.08,"d":-0.06},
{"t":12.3,"a":0.02,"b":0.06,"c":-0.07,"d":0.05},
{"t":12.33,"a":-0.01,"b":-0.05,"c":0.06,"d":-0.06},
{"t":12.36,"a":0.01,"b":0.05,"c":-0.07,"d":0.05},
{"t":12.39,"a":-0.02,"b":-0.05,"c":0.06,"d":-0.06},
{"t":12.42,"a":0.01,"b":0.04,"c":-0.07,"d":0.05},
{"t":12.45,"a":-0.01,"b":-0.05,"c":0.06,"d":-0.06},
{"t":12.48,"a":0.01,"b":0.04,"c":-0.07,"d":0.05},
{"t":12.51,"a":-0.01,"b":-0.04,"c":0.06,"d":-0.06},
{"t":12.54,"a":0.01,"b":0.04,"c":-0.06,"d":0.05},
{"t":12.57,"a":-0.01,"b":-0.04,"c":0.07,"d":-0.06},
{"t":12.6,"a":0.01,"b":0.04,"c":-0.06,"d":0.05},
{"t":12.63,"a":-0.01,"b":-0.03,"c":0.07,"d":-0.06},
{"t":12.66,"a":0.02,"b":0.04,"c":-0.06,"d":0.05},
{"t":12.69,"a":-0.01,"b":-0.04,"c":0.07,"d":-0.06},
{"t":12.72,"a":0.01,"b":0.03,"c":-0.06,"d":0.05},
{"t":12.75,"a":-0.01,"b":-0.04,"c":0.07,"d":-0.06},
{"t":12.78,"a":0.01,"b":0.04,"c":-0.07,"d":0.06},
{"t":12.81,"a":-0.01,"b":-0.03,"c":0.06,"d":-0.05},
{"t":12.84,"a":0.01,"b":0.04,"c":-0.07,"d":0.06},
{"t":12.87,"a":-0.01,"b":-0.04,"c":0.06,"d":-0.05},
{"t":12.9,"a":0.01,"b":0.04,"c":-0.07,"d":0.06},
{"t":12.93,"a":-0.01,"b":-0.03,"c":0.06,"d":-0.05},
{"t":12.96,"a":0.01,"b":0.04,"c":-0.07,"d":0.06},
{"t":12.99,"a":-0.01,"b":-0.04,"c":0.07,"d":-0.05},
{"t":13.02,"a":0.01,"b":0.04,"c":-0.07,"d":0.06},
{"t":13.05,"a":-0.01,"b":-0.04,"c":0.06,"d":-0.05},
{"t":13.08,"a":0.02,"b":0.05,"c":-0.08,"d":0.06},
{"t":13.11,"a":-0.01,"b":-0.04,"c":0.07,"d":-0.06},
{"t":13.14,"a":0.01,"b":0.05,"c":-0.08,"d":0.05},
{"t":13.17,"a":-0.01,"b":-0.07,"c":0.07,"d":-0.06},
{"t":13.2,"a":0.01,"b":0.07,"c":-0.08,"d":0.05},
{"t":13.23,"a":-0.01,"b":-0.05,"c":0.09,"d":-0.06},
{"t":13.26,"a":0.01,"b":0.04,"c":-0.09,"d":0.06},
{"t":13.29,"a":-0.02,"b":-0.04,"c":0.1,"d":-0.06},
{"t":13.32,"a":0.01,"b":0.05,"c":-0.1,"d":0.06},
{"t":13.35,"a":-0.01,"b":-0.04,"c":0.11,"d":-0.07},
{"t":13.38,"a":0.02,"b":0.04,"c":-0.1,"d":0.1},
{"t":13.41,"a":-0.01,"b":-0.05,"c":0.12,"d":-0.06},
{"t":13.44,"a":0.01,"b":0.04,"c":-0.11,"d":0.05},
{"t":13.47,"a":-0.01,"b":-0.04,"c":0.13,"d":-0.06},
{"t":13.5,"a":0.01,"b":0.05,"c":-0.12,"d":0.06},
{"t":13.53,"a":-0.02,"b":-0.04,"c":0.13,"d":-0.06},
{"t":13.56,"a":0.01,"b":0.05,"c":-0.12,"d":0.07},
{"t":13.59,"a":-0.01,"b":-0.04,"c":0.14,"d":-0.07},
{"t":13.62,"a":0.01,"b":0.05,"c":-0.13,"d":0.08},
{"t":13.65,"a":-0.02,"b":-0.04,"c":0.14,"d":-0.07},
{"t":13.68,"a":0.01,"b":0.05,"c":-0.13,"d":0.08},
{"t":13.71,"a":-0.01,"b":-0.05,"c":0.15,"d":-0.08},
{"t":13.74,"a":0.02,"b":0.04,"c":-0.14,"d":0.07},
{"t":13.77,"a":-0.01,"b":-0.05,"c":0.15,"d":-0.08},
{"t":13.8,"a":0.01,"b":0.05,"c":-0.15,"d":0.08},
{"t":13.83,"a":-0.01,"b":-0.05,"c":0.16,"d":-0.09},
{"t":13.86,"a":0.01,"b":0.05,"c":-0.14,"d":0.1},
{"t":13.89,"a":-0.02,"b":-0.06,"c":0.17,"d":-0.1},
{"t":13.92,"a":0.01,"b":0.05,"c":-0.15,"d":0.12},
{"t":13.95,"a":-0.01,"b":-0.07,"c":0.2,"d":0.25},
{"t":13.98,"a":0.02,"b":0.06,"c":-0.16,"d":-0.15},
{"t":14.01,"a":-0.01,"b":-0.05,"c":0.14,"d":0.12},
{"t":14.04,"a":0.02,"b":0.04,"c":-0.13,"d":-0.09},
{"t":14.07,"a":-0.01,"b":-0.05,"c":0.15,"d":0.08},
{"t":14.1,"a":0.01,"b":0.04,"c":-0.14,"d":-0.07},
{"t":14.13,"a":-0.02,"b":-0.05,"c":0.13,"d":0.06},
{"t":14.16,"a":0.01,"b":0.04,"c":-0.15,"d":-0.07},
{"t":14.19,"a":-0.01,"b":-0.05,"c":0.14,"d":0.06},
{"t":14.22,"a":0.02,"b":0.04,"c":-0.13,"d":-0.07},
{"t":14.25,"a":-0.01,"b":-0.04,"c":0.15,"d":0.06},
{"t":14.28,"a":0.01,"b":0.05,"c":-0.14,"d":-0.05},
{"t":14.31,"a":-0.02,"b":-0.04,"c":0.13,"d":0.06},
{"t":14.34,"a":0.01,"b":0.04,"c":-0.15,"d":-0.07},
{"t":14.37,"a":-0.01,"b":-0.05,"c":0.14,"d":0.06},
{"t":14.4,"a":0.02,"b":0.04,"c":-0.13,"d":-0.05},
{"t":14.43,"a":-0.01,"b":-0.04,"c":0.15,"d":0.06},
{"t":14.46,"a":0.02,"b":0.05,"c":-0.16,"d":-0.07},
{"t":14.49,"a":-0.02,"b":-0.04,"c":0.15,"d":0.06},
{"t":14.52,"a":0.02,"b":0.04,"c":-0.16,"d":-0.05},
{"t":14.55,"a":-0.01,"b":-0.05,"c":0.17,"d":0.06},
{"t":14.58,"a":0.02,"b":0.04,"c":-0.15,"d":-0.07},
{"t":14.61,"a":-0.02,"b":-0.04,"c":0.16,"d":0.06},
{"t":14.64,"a":0.03,"b":0.05,"c":-0.17,"d":-0.05},
{"t":14.67,"a":-0.02,"b":-0.04,"c":0.16,"d":0.06},
{"t":14.7,"a":0.02,"b":0.04,"c":-0.17,"d":-0.07},
{"t":14.73,"a":-0.03,"b":-0.05,"c":0.15,"d":0.06},
{"t":14.76,"a":0.02,"b":0.04,"c":-0.18,"d":-0.05},
{"t":14.79,"a":-0.02,"b":-0.04,"c":0.17,"d":0.06},
{"t":14.82,"a":0.03,"b":0.05,"c":-0.16,"d":-0.07},
{"t":14.85,"a":-0.02,"b":-0.04,"c":0.18,"d":0.06},
{"t":14.88,"a":0.02,"b":0.04,"c":-0.17,"d":-0.05},
{"t":14.91,"a":-0.03,"b":-0.05,"c":0.16,"d":0.07},
{"t":14.94,"a":0.02,"b":0.04,"c":-0.18,"d":-0.06},
{"t":14.97,"a":-0.02,"b":-0.05,"c":0.17,"d":0.12},
{"t":15,"a":0.03,"b":0.05,"c":-0.15,"d":0.2},
{"t":15.03,"a":-0.02,"b":-0.04,"c":0.17,"d":-0.12},
{"t":15.06,"a":0.02,"b":0.04,"c":-0.14,"d":0.08},
{"t":15.09,"a":-0.02,"b":-0.05,"c":0.16,"d":-0.06},
{"t":15.12,"a":0.03,"b":0.04,"c":-0.15,"d":0.05},
{"t":15.15,"a":-0.02,"b":-0.04,"c":0.16,"d":-0.06},
{"t":15.18,"a":0.02,"b":0.04,"c":-0.13,"d":0.05},
{"t":15.21,"a":-0.03,"b":-0.05,"c":0.15,"d":-0.06},
{"t":15.24,"a":0.02,"b":0.04,"c":-0.14,"d":0.05},
{"t":15.27,"a":-0.02,"b":-0.03,"c":0.13,"d":-0.05},
{"t":15.3,"a":0.03,"b":0.04,"c":-0.12,"d":0.06},
{"t":15.33,"a":-0.02,"b":-0.03,"c":0.13,"d":-0.05},
{"t":15.36,"a":0.02,"b":0.03,"c":-0.11,"d":0.05},
{"t":15.39,"a":-0.03,"b":-0.03,"c":0.12,"d":-0.05},
{"t":15.42,"a":0.03,"b":0.03,"c":-0.1,"d":0.05},
{"t":15.45,"a":-0.02,"b":-0.03,"c":0.11,"d":-0.05},
{"t":15.48,"a":0.01,"b":0.03,"c":-0.08,"d":0.05},
{"t":15.51,"a":-0.01,"b":-0.03,"c":0.06,"d":-0.04},
{"t":15.54,"a":0.01,"b":0.02,"c":-0.05,"d":0.05},
{"t":15.57,"a":-0.01,"b":-0.02,"c":0.04,"d":-0.04},
{"t":15.6,"a":0.01,"b":0.02,"c":-0.03,"d":0.05},
{"t":15.63,"a":-0.01,"b":-0.02,"c":0.03,"d":-0.04},
{"t":15.66,"a":0.01,"b":0.02,"c":-0.02,"d":0.04},
{"t":15.69,"a":-0.01,"b":-0.02,"c":0.03,"d":-0.05},
{"t":15.72,"a":0.01,"b":0.02,"c":-0.02,"d":0.04},
{"t":15.75,"a":-0.01,"b":-0.02,"c":0.03,"d":-0.04},
{"t":15.78,"a":0.01,"b":0.02,"c":-0.02,"d":0.04},
{"t":15.81,"a":-0.01,"b":-0.02,"c":0.03,"d":-0.04},
{"t":15.84,"a":0.01,"b":0.02,"c":-0.03,"d":0.04},
{"t":15.87,"a":-0.01,"b":-0.02,"c":0.02,"d":-0.04},
{"t":15.9,"a":0.01,"b":0.02,"c":-0.03,"d":0.04},
{"t":15.93,"a":-0.01,"b":-0.02,"c":0.02,"d":-0.04},
{"t":15.96,"a":0.01,"b":0.02,"c":-0.03,"d":0.04},
{"t":15.99,"a":-0.01,"b":-0.02,"c":0.03,"d":-0.03},
{"t":16.02,"a":0.01,"b":0.02,"c":-0.02,"d":0.04},
{"t":16.05,"a":-0.01,"b":-0.02,"c":0.03,"d":-0.03},
{"t":16.08,"a":0.01,"b":0.02,"c":-0.03,"d":0.04},
{"t":16.11,"a":-0.01,"b":-0.02,"c":0.02,"d":-0.03},
{"t":16.14,"a":0.01,"b":0.02,"c":-0.03,"d":0.03},
{"t":16.17,"a":-0.01,"b":-0.01,"c":0.03,"d":-0.04},
{"t":16.2,"a":0.01,"b":0.02,"c":-0.04,"d":0.03},
{"t":16.23,"a":-0.01,"b":-0.02,"c":0.03,"d":-0.03},
{"t":16.26,"a":0.01,"b":0.01,"c":-0.03,"d":0.03},
{"t":16.29,"a":-0.01,"b":-0.02,"c":0.04,"d":-0.03},
{"t":16.32,"a":0.01,"b":0.01,"c":-0.03,"d":0.03},
{"t":16.35,"a":-0.02,"b":-0.02,"c":0.03,"d":-0.03},
{"t":16.38,"a":0.03,"b":0.02,"c":-0.03,"d":0.03},
{"t":16.41,"a":-0.02,"b":-0.01,"c":0.03,"d":-0.03},
{"t":16.44,"a":0.01,"b":0.01,"c":-0.02,"d":0.03},
{"t":16.47,"a":-0.01,"b":-0.02,"c":0.03,"d":-0.02},
{"t":16.5,"a":0.01,"b":0.01,"c":-0.02,"d":0.03},
{"t":16.53,"a":-0.01,"b":-0.01,"c":0.03,"d":-0.02},
{"t":16.56,"a":0.01,"b":0.01,"c":-0.02,"d":0.03},
{"t":16.59,"a":-0.01,"b":-0.01,"c":0.03,"d":-0.02},
{"t":16.62,"a":0.01,"b":0.01,"c":-0.03,"d":0.02},
{"t":16.65,"a":-0.01,"b":-0.01,"c":0.03,"d":-0.03},
{"t":16.68,"a":0.01,"b":0.01,"c":-0.03,"d":0.02},
{"t":16.71,"a":-0.01,"b":-0.01,"c":0.04,"d":-0.02},
{"t":16.74,"a":0.01,"b":0.01,"c":-0.04,"d":0.02},
{"t":16.77,"a":-0.01,"b":-0.01,"c":0.05,"d":-0.02},
{"t":16.8,"a":0.01,"b":0.01,"c":-0.05,"d":0.02},
{"t":16.83,"a":-0.01,"b":-0.01,"c":0.05,"d":-0.02},
{"t":16.86,"a":0.01,"b":0.01,"c":-0.05,"d":0.02},
{"t":16.89,"a":-0.01,"b":-0.01,"c":0.04,"d":-0.02},
{"t":16.92,"a":0.01,"b":0.01,"c":-0.04,"d":0.02},
{"t":16.95,"a":-0.01,"b":-0.01,"c":0.03,"d":-0.02},
{"t":16.98,"a":0.01,"b":0.01,"c":-0.03,"d":0.02},
{"t":17.01,"a":-0.01,"b":-0.01,"c":0.02,"d":-0.02},
{"t":17.04,"a":0.01,"b":0.01,"c":-0.02,"d":0.02},
{"t":17.07,"a":-0.01,"b":-0.01,"c":0.01,"d":-0.01},
{"t":17.1,"a":0.01,"b":0.01,"c":-0.01,"d":0.02},
{"t":17.13,"a":-0.01,"b":-0.01,"c":0.01,"d":-0.01},
{"t":17.16,"a":0.01,"b":0.01,"c":-0.01,"d":0.01},
{"t":17.19,"a":-0.01,"b":-0.01,"c":0.01,"d":-0.02},
{"t":17.22,"a":0.01,"b":0.01,"c":-0.01,"d":0.01},
{"t":17.25,"a":-0.01,"b":-0.01,"c":0.01,"d":-0.01},
{"t":17.28,"a":0.01,"b":0.01,"c":-0.01,"d":0.01},
{"t":17.31,"a":-0.01,"b":-0.01,"c":0.01,"d":-0.01},
{"t":17.34,"a":0.01,"b":0.01,"c":-0.01,"d":0.01},
{"t":17.37,"a":-0.01,"b":-0.01,"c":0.01,"d":-0.01},
{"t":17.4,"a":0.01,"b":0.01,"c":-0.01,"d":0.01},
{"t":17.43,"a":-0.01,"b":-0.01,"c":0.01,"d":-0.01},
{"t":17.46,"a":0.01,"b":0.01,"c":-0.01,"d":0.01},
{"t":17.49,"a":-0.01,"b":-0.01,"c":0.01,"d":-0.01},
{"t":17.52,"a":0.01,"b":0.01,"c":-0.01,"d":0.01},
{"t":17.55,"a":-0.01,"b":-0.01,"c":0.01,"d":-0.01},
{"t":17.58,"a":0.01,"b":0.01,"c":-0.01,"d":0.01},
{"t":17.61,"a":-0.01,"b":-0.01,"c":0.01,"d":-0.01},
{"t":17.64,"a":0.01,"b":0.01,"c":-0.02,"d":0.01},
{"t":17.67,"a":-0.01,"b":-0.02,"c":0.13,"d":-0.01},
{"t":17.7,"a":0.01,"b":0.02,"c":-0.16,"d":0.01},
{"t":17.73,"a":-0.01,"b":-0.02,"c":0.06,"d":-0.01},
{"t":17.76,"a":0.01,"b":0.02,"c":-0.07,"d":0.01},
{"t":17.79,"a":-0.01,"b":-0.01,"c":0.03,"d":-0.01},
{"t":17.82,"a":0.01,"b":0.01,"c":-0.02,"d":0.01},
{"t":17.85,"a":-0.01,"b":-0.01,"c":0.01,"d":-0.01},
{"t":17.88,"a":0.01,"b":0,"c":-0.01,"d":0.01},
{"t":17.91,"a":-0.01,"b":0,"c":0.01,"d":-0.01},
{"t":17.94,"a":0.01,"b":0,"c":-0.01,"d":0.01},
{"t":17.97,"a":-0.01,"b":0,"c":0.01,"d":-0.01},
{"t":18,"a":0,"b":0,"c":-0.01,"d":0.01},
{"t":18.03,"a":0,"b":0,"c":0.01,"d":-0.01},
{"t":18.06,"a":0,"b":0,"c":-0.01,"d":0.01},
{"t":18.09,"a":0,"b":0,"c":0,"d":-0.01},
{"t":18.12,"a":0,"b":0,"c":0,"d":0.01},
{"t":18.15,"a":0,"b":0,"c":0,"d":-0.01},
{"t":18.18,"a":0,"b":0,"c":0,"d":0},
{"t":20,"a":0,"b":0,"c":0,"d":0}
]},
"spacing": 57,
"bounds": "flush",
"vconcat": [
{"width": 1354, "height": 152,
 "layer": [
  {"mark": {"type": "line", "color": "#000", "strokeWidth": 1},
   "encoding": {
    "x": {"field": "t", "type": "quantitative", "scale": {"domain": [0, 20], "nice": false, "zero": false}, "axis": {"orient": "bottom", "values": [0,2,4,6,8,10,12,14,16,18,20], "title": null, "labelExpr": "datum.value + ''"}},
    "y": {"field": "a", "type": "quantitative", "scale": {"domain": [-1, 1], "nice": false}, "axis": {"orient": "left", "values": [-1,0,1], "title": null, "labelPadding": 20, "labelBaseline": "middle", "labelExpr": "datum.value + ''"}}}},
  {"mark": {"type": "line", "opacity": 0},
   "encoding": {
    "x": {"field": "t", "type": "quantitative", "axis": {"orient": "top", "values": [2,4,6,8,10,12,14,16,18], "labels": false, "title": null}},
    "y": {"field": "a", "type": "quantitative", "axis": {"orient": "right", "values": [0], "labels": false, "title": null}}}}
 ],
 "resolve": {"axis": {"x": "independent", "y": "independent"}}},
{"width": 1354, "height": 152,
 "layer": [
  {"mark": {"type": "line", "color": "#000", "strokeWidth": 1},
   "encoding": {
    "x": {"field": "t", "type": "quantitative", "scale": {"domain": [0, 20], "nice": false, "zero": false}, "axis": {"orient": "bottom", "values": [0,2,4,6,8,10,12,14,16,18,20], "title": null, "labelExpr": "datum.value + ''"}},
    "y": {"field": "b", "type": "quantitative", "scale": {"domain": [-1, 1], "nice": false}, "axis": {"orient": "left", "values": [-1,0,1], "title": "Accelerations [m/s²]", "titleFontSize": 33, "titleX": -61, "titleY": 165, "titleAngle": -90, "titleBaseline": "bottom", "titleAlign": "center", "labelPadding": 20, "labelBaseline": "middle", "labelExpr": "datum.value + ''"}}}},
  {"mark": {"type": "line", "opacity": 0},
   "encoding": {
    "x": {"field": "t", "type": "quantitative", "axis": {"orient": "top", "values": [2,4,6,8,10,12,14,16,18], "labels": false, "title": null}},
    "y": {"field": "b", "type": "quantitative", "axis": {"orient": "right", "values": [0], "labels": false, "title": null}}}}
 ],
 "resolve": {"axis": {"x": "independent", "y": "independent"}}},
{"width": 1354, "height": 152,
 "layer": [
  {"mark": {"type": "line", "color": "#000", "strokeWidth": 1},
   "encoding": {
    "x": {"field": "t", "type": "quantitative", "scale": {"domain": [0, 20], "nice": false, "zero": false}, "axis": {"orient": "bottom", "values": [0,2,4,6,8,10,12,14,16,18,20], "title": null, "labelExpr": "datum.value + ''"}},
    "y": {"field": "c", "type": "quantitative", "scale": {"domain": [-1, 1], "nice": false}, "axis": {"orient": "left", "values": [-1,0,1], "title": null, "labelPadding": 20, "labelBaseline": "middle", "labelExpr": "datum.value + ''"}}}},
  {"mark": {"type": "line", "opacity": 0},
   "encoding": {
    "x": {"field": "t", "type": "quantitative", "axis": {"orient": "top", "values": [2,4,6,8,10,12,14,16,18], "labels": false, "title": null}},
    "y": {"field": "c", "type": "quantitative", "axis": {"orient": "right", "values": [0], "labels": false, "title": null}}}}
 ],
 "resolve": {"axis": {"x": "independent", "y": "independent"}}},
{"width": 1354, "height": 152,
 "layer": [
  {"mark": {"type": "line", "color": "#000", "strokeWidth": 1},
   "encoding": {
    "x": {"field": "t", "type": "quantitative", "scale": {"domain": [0, 20], "nice": false, "zero": false}, "axis": {"orient": "bottom", "values": [0,2,4,6,8,10,12,14,16,18,20], "title": "Time [s]", "titleFontSize": 32, "titlePadding": 3, "labelExpr": "datum.value + ''"}},
    "y": {"field": "d", "type": "quantitative", "scale": {"domain": [-1, 1], "nice": false}, "axis": {"orient": "left", "values": [-1,0,1], "title": null, "labelPadding": 20, "labelBaseline": "middle", "labelExpr": "datum.value + ''"}}}},
  {"mark": {"type": "line", "opacity": 0},
   "encoding": {
    "x": {"field": "t", "type": "quantitative", "axis": {"orient": "top", "values": [2,4,6,8,10,12,14,16,18], "labels": false, "title": null}},
    "y": {"field": "d", "type": "quantitative", "axis": {"orient": "right", "values": [0], "labels": false, "title": null}}}}
 ],
 "resolve": {"axis": {"x": "independent", "y": "independent"}}}
],
"config": {
 "view": {"stroke": "#333", "strokeWidth": 1.3},
 "axis": {"grid": false, "domain": false, "tickSize": -12, "tickColor": "#888", "tickWidth": 1.5, "labelFont": "Liberation Serif", "labelFontSize": 30, "labelColor": "#000", "labelFlush": false, "labelOverlap": false, "labelPadding": 19, "titleFont": "Liberation Serif", "titleFontSize": 31, "titleFontWeight": "normal", "titleColor": "#000"}
}
}
